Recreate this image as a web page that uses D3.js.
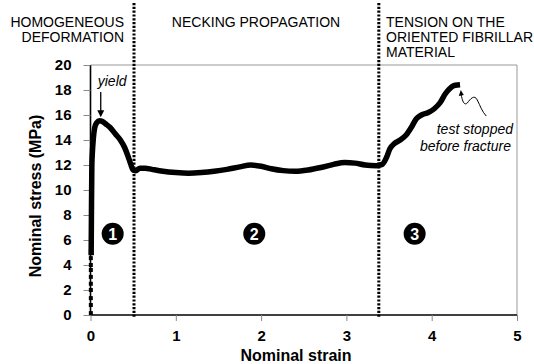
<!DOCTYPE html>
<html>
<head>
<meta charset="utf-8">
<script src="https://cdn.jsdelivr.net/npm/d3@7"></script>
<style>
  html, body { margin: 0; padding: 0; background: #fff; }
  svg { display: block; font-family: "Liberation Sans", Arial, Helvetica, sans-serif; }
</style>
</head>
<body>
<svg id="chart" width="534" height="364"></svg>
<script>
// Tensile curve: nominal strain vs nominal stress (MPa)
const strain = [0.008, 0.010, 0.012, 0.014, 0.016, 0.022, 0.032, 0.050, 0.075, 0.105, 0.135, 0.175, 0.230,
  0.290, 0.350, 0.400, 0.440, 0.470, 0.500, 0.530, 0.580, 0.640, 0.720, 0.850, 1.000, 1.150, 1.300,
  1.450, 1.600, 1.750, 1.880, 2.000, 2.120, 2.260, 2.400, 2.550, 2.700, 2.850, 2.980, 3.100, 3.220,
  3.350, 3.420, 3.470, 3.510, 3.560, 3.630, 3.700, 3.760, 3.820, 3.880, 3.960, 4.030, 4.100, 4.160,
  4.210, 4.260, 4.300];
const stress = [5.0, 7.0, 9.0, 10.5, 12.0, 13.0, 14.0, 15.0, 15.4, 15.55, 15.5, 15.3, 15.0,
  14.5, 14.0, 13.4, 12.7, 12.1, 11.6, 11.55, 11.75, 11.75, 11.65, 11.5, 11.4, 11.35, 11.4,
  11.5, 11.65, 11.85, 12.0, 11.9, 11.7, 11.55, 11.5, 11.6, 11.8, 12.05, 12.2, 12.15, 12.0,
  11.95, 12.05, 12.6, 13.3, 13.7, 14.0, 14.4, 15.0, 15.7, 16.0, 16.2, 16.5, 17.0, 17.7,
  18.1, 18.35, 18.4];

// First elastic readings, recorded as separate points
const initStrain = [0.004, 0.004, 0.004, 0.004, 0.004, 0.004, 0.004, 0.004, 0.004, 0.004];
const initStress = [0.15, 0.8, 1.35, 2.0, 2.5, 3.05, 3.6, 4.0, 4.55, 5.05];

const xTicks = [0, 1, 2, 3, 4, 5];
const yTicks = [0, 2, 4, 6, 8, 10, 12, 14, 16, 18, 20];

// Regime boundaries (strain) and labels
const boundaries = [0.51, 3.38];
const regimeLabels = [
  ["HOMOGENEOUS", "DEFORMATION"],
  ["NECKING PROPAGATION"],
  ["TENSION ON THE", "ORIENTED FIBRILLAR", "MATERIAL"]
];
const regimeMarks = [
  { strain: 0.26, stress: 6.5, label: "1" },
  { strain: 1.92, stress: 6.5, label: "2" },
  { strain: 3.80, stress: 6.5, label: "3" }
];
const yieldPoint = { strain: 0.12, stress: 15.5 };
const endPoint = { strain: 4.30, stress: 18.4 };

const svg = d3.select("#chart");
const x = d3.scaleLinear().domain([0, 5]).range([90.5, 517]);
const y = d3.scaleLinear().domain([0, 20]).range([315, 65]);

// Frame: light top/right edges
svg.append("line").attr("x1", x(0)).attr("x2", x(5)).attr("y1", y(20)).attr("y2", y(20))
  .attr("stroke", "#999").attr("stroke-width", 1);
svg.append("line").attr("x1", x(5)).attr("x2", x(5)).attr("y1", y(20)).attr("y2", y(0))
  .attr("stroke", "#999").attr("stroke-width", 1);

// Axes
const yAxis = d3.axisLeft(y).tickValues(yTicks).tickSize(7).tickPadding(12).tickFormat(d3.format("d"));
const xAxis = d3.axisBottom(x).tickValues(xTicks).tickSize(6).tickPadding(9).tickFormat(d3.format("d"));

const gy = svg.append("g").attr("transform", `translate(${x(0)},0)`).call(yAxis);
const gx = svg.append("g").attr("transform", `translate(0,${y(0)})`).call(xAxis);
[gy, gx].forEach(g => {
  g.select(".domain").attr("stroke", "#000").attr("stroke-width", 1.6);
  g.selectAll(".tick line").attr("stroke", "#888").attr("stroke-width", 1);
  g.selectAll(".tick text").attr("fill", "#000").attr("font-size", 15).attr("font-weight", "bold")
    .attr("font-family", "Liberation Sans, Arial, sans-serif");
});
gy.select(".domain").attr("d", `M0,${y(0)}V${y(20)}`);
gx.select(".domain").attr("d", `M${x(0)},0H${x(5)}`);

// Axis titles
svg.append("text").attr("x", 296).attr("y", 361).attr("text-anchor", "middle")
  .attr("font-size", 16).attr("font-weight", "bold").text("Nominal strain");
svg.append("text").attr("transform", "translate(41,196) rotate(-90)").attr("text-anchor", "middle")
  .attr("font-size", 16).attr("font-weight", "bold").text("Nominal stress (MPa)");

// Regime boundaries
svg.selectAll("line.boundary").data(boundaries).join("line").attr("class", "boundary")
  .attr("x1", d => x(d)).attr("x2", d => x(d)).attr("y1", 3).attr("y2", 318)
  .attr("stroke", "#000").attr("stroke-width", 3).attr("stroke-dasharray", "2.2,1.6");

// Regime titles
const titleFont = 14;
const titleX = [124, 256, 386];
const titleAnchor = ["end", "middle", "start"];
regimeLabels.forEach((lines, i) => {
  lines.forEach((t, j) => {
    svg.append("text").attr("x", titleX[i]).attr("y", 27 + j * 15)
      .attr("text-anchor", titleAnchor[i]).attr("font-size", titleFont).text(t);
  });
});

// Stress-strain curve
const line = d3.line().x((d, i) => x(strain[i])).y((d, i) => y(stress[i])).curve(d3.curveMonotoneX);
svg.append("path").datum(stress).attr("d", line)
  .attr("fill", "none").attr("stroke", "#000").attr("stroke-width", 5.5)
  .attr("stroke-linejoin", "round").attr("stroke-linecap", "square");

svg.selectAll("rect.init").data(initStress).join("rect").attr("class", "init")
  .attr("x", (d, i) => x(initStrain[i]) - 2).attr("y", d => y(d) - 2)
  .attr("width", 4).attr("height", 4).attr("fill", "#000");

// Circled regime numbers
const marks = svg.selectAll("g.mark").data(regimeMarks).join("g").attr("class", "mark")
  .attr("transform", d => `translate(${x(d.strain)},${y(d.stress)})`);
marks.append("circle").attr("r", 11).attr("fill", "#000");
marks.append("text").attr("text-anchor", "middle").attr("dy", "0.36em")
  .attr("fill", "#fff").attr("font-size", 16).attr("font-weight", "bold").text(d => d.label);

// Yield annotation
const yx = x(yieldPoint.strain);
svg.append("text").attr("x", yx - 3).attr("y", 86).attr("font-size", 14)
  .attr("font-style", "italic").text("yield");
svg.append("line").attr("x1", yx).attr("x2", yx).attr("y1", 92).attr("y2", y(yieldPoint.stress) - 10)
  .attr("stroke", "#000").attr("stroke-width", 1.3);
svg.append("path").attr("d", `M${yx - 3.5},${y(yieldPoint.stress) - 11}L${yx + 3.5},${y(yieldPoint.stress) - 11}L${yx},${y(yieldPoint.stress) - 4}Z`)
  .attr("fill", "#000");

// End-of-test annotation
const ex = x(endPoint.strain) + 4, ey = y(endPoint.stress) + 7;
svg.append("path")
  .attr("d", `M${ex},${ey + 3} C${ex + 1},${ey + 9} ${ex + 3},${ey + 14} ${ex + 6},${ey + 11} C${ex + 9},${ey + 7} ${ex + 13},${ey + 2} ${ex + 16},${ey + 8} C${ex + 19},${ey + 14} ${ex + 21},${ey + 20} ${ex + 25},${ey + 24}`)
  .attr("fill", "none").attr("stroke", "#000").attr("stroke-width", 1);
svg.append("path").attr("d", `M${ex - 2.5},${ey + 4}L${ex + 2.5},${ey + 3}L${ex - 0.5},${ey - 2}Z`).attr("fill", "#000");
svg.append("text").attr("x", 513).attr("y", 134).attr("text-anchor", "end")
  .attr("font-size", 14).attr("font-style", "italic").text("test stopped");
svg.append("text").attr("x", 511).attr("y", 151).attr("text-anchor", "end")
  .attr("font-size", 14).attr("font-style", "italic").text("before fracture");
</script>
</body>
</html>
